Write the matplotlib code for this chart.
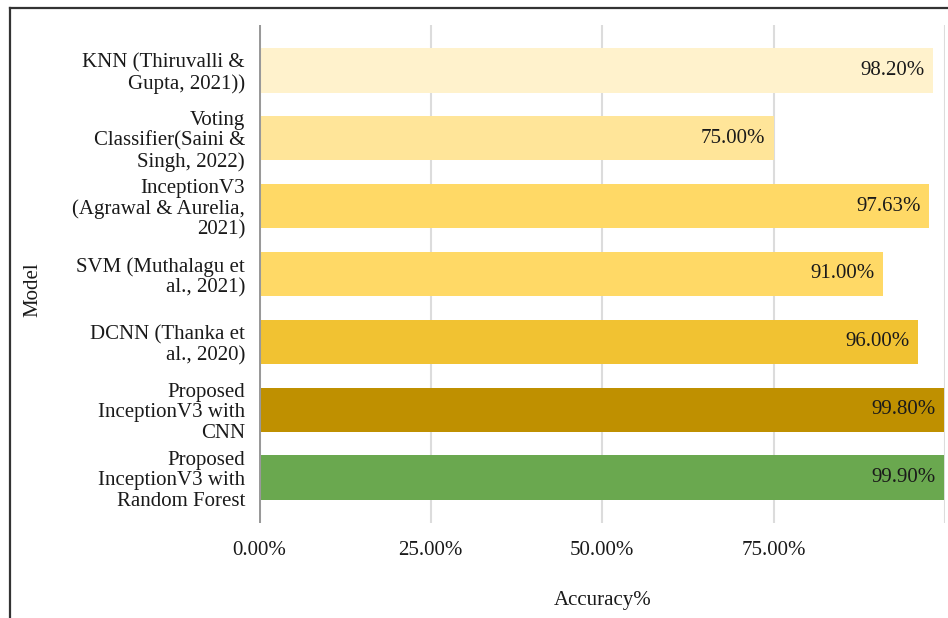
import matplotlib
matplotlib.use("Agg")
import matplotlib.pyplot as plt
from matplotlib.lines import Line2D

plt.rcParams['font.family'] = ['Liberation Serif', 'DejaVu Serif']

models = [
    "KNN (Thiruvalli &\nGupta, 2021))",
    "Voting\nClassifier(Saini &\nSingh, 2022)",
    "InceptionV3\n(Agrawal & Aurelia,\n2021)",
    "SVM (Muthalagu et\nal., 2021)",
    "DCNN (Thanka et\nal., 2020)",
    "Proposed\nInceptionV3 with\nCNN",
    "Proposed\nInceptionV3 with\nRandom Forest",
]
accuracy = [98.20, 75.00, 97.63, 91.00, 96.00, 99.80, 99.90]
colors = ["#FFF2CC", "#FFE599", "#FFD966", "#FFD966", "#F1C232", "#BF9000", "#6AA84F"]
xticks = [0, 25, 50, 75]
xtick_labels = ["0.00%", "25.00%", "50.00%", "75.00%"]

FS = 15
TC = "#1a1a1a"

fig = plt.figure(figsize=(9.48, 6.18), dpi=100)
ax = fig.add_axes([259/948, 1-523/618, (945-259)/948, (523-25)/618])

ypos = list(range(len(models)))
ax.barh(ypos, accuracy, height=0.65, color=colors, zorder=3)
for y, v in zip(ypos, accuracy):
    ax.annotate(f"{v:.2f}%", xy=(v, y), xytext=(-6, 0), textcoords="offset points",
                ha="right", va="center", fontsize=FS, color=TC, zorder=4)

ax.set_xlim(0, 100)
ax.set_ylim(len(models) - 1 + 0.67, -0.67)
ax.set_yticks(ypos)
ax.set_yticklabels(models, fontsize=FS, linespacing=1.1, color=TC)
ax.set_xticks(xticks)
ax.set_xticklabels(xtick_labels, fontsize=FS, color=TC)
for g in [25, 50, 75, 100]:
    ax.axvline(g, color="#dcdcdc", lw=1.5, zorder=1)
for s in ax.spines.values():
    s.set_visible(False)
ax.axvline(0, color="#999999", lw=2.2, zorder=5)
ax.tick_params(axis="both", length=0)
ax.tick_params(axis="x", pad=13)
ax.tick_params(axis="y", pad=10)

fig.text(603/948, 1-601/618, "Accuracy%", ha="center", va="center", fontsize=FS, color=TC)
fig.text(33/948, 1-290/618, "Model", ha="center", va="center", rotation=90, fontsize=FS, color=TC)

# outer frame (left and top)
fig.add_artist(Line2D([10/948, 10/948], [0, 1-8/618], transform=fig.transFigure, color="#333333", lw=1.6))
fig.add_artist(Line2D([10/948, 1], [1-8/618, 1-8/618], transform=fig.transFigure, color="#333333", lw=1.6))

fig.savefig("out.png", dpi=100)
